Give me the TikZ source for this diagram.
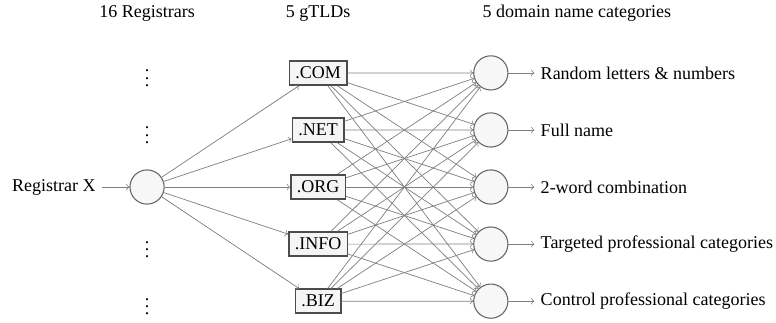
\documentclass[tikz,border=0pt]{standalone}
\usepackage{fontspec}
\setmainfont{Liberation Serif}
\usepackage{tikz}
\usetikzlibrary{positioning}

\begin{document}
\begin{tikzpicture}[auto, tldbox/.style={rectangle, draw=black!70, fill=black!4, line width=0.8pt, inner sep=3.33pt}, hub/.style={circle, draw=black!60, fill=black!3, line width=0.6pt, minimum size=19pt, inner sep=0pt}, line/.style={draw=black!50, line width=0.4pt, ->}]
        \useasboundingbox (-81.7pt,-75pt) rectangle (349.4pt,103.9pt);

        % Nodes
        \node [hub] (regx) {};
        \node [left=15.3pt of regx] (regxlabel) {Registrar X};
        \node [tldbox, right=69.65pt of regx] (org) {.ORG};
        \node [tldbox, above=17.5pt of org] (net) {.NET};
        \node [tldbox, above=17.5pt of net] (com) {.COM};
        \node [tldbox, below=17.5pt of org] (info) {.INFO};
        \node [tldbox, below=17.5pt of info] (biz) {.BIZ};
        \node [hub, right=70.65pt of org] (cat3) {};
        \node [hub, above=12.1pt of cat3] (cat2) {};
        \node [hub, above=12.1pt of cat2] (cat1) {};
        \node [hub, below=12.1pt of cat3] (cat4) {};
        \node [hub, below=12.1pt of cat4] (cat5) {};
        \node [right=14.4pt of cat1] (random) {Random letters \& numbers};
        \node [right=14.4pt of cat2] (fullname) {Full name};
        \node [right=14.4pt of cat3] (twoword) {2-word combination};
        \node [right=14.4pt of cat4] (targeted) {Targeted professional categories};
        \node [right=14.4pt of cat5] (control) {Control professional categories};

        % Other registrars
        \node (dots1) at (regx |- com) {$\vdots$};
        \node (dots2) at (regx |- net) {$\vdots$};
        \node (dots4) at (regx |- info) {$\vdots$};
        \node (dots5) at (regx |- biz) {$\vdots$};

        % Titles
        \coordinate (ttl) at (0,96.4pt);
        \node (ttlreg) at (regx |- ttl) {16 Registrars};
        \node (ttltld) at (com |- ttl) {5 gTLDs};
        \node (ttlcat) at (cat1 |- ttl) [xshift=47.8pt] {5 domain name categories};

        % Arrows
        \path [line] (regxlabel) -- (regx);
        \path [line] (regx) -- (com);
        \path [line] (regx) -- (net);
        \path [line] (regx) -- (org);
        \path [line] (regx) -- (info);
        \path [line] (regx) -- (biz);
        \foreach \tld in {com,net,org,info,biz}
          \foreach \cat in {cat1,cat2,cat3,cat4,cat5}
            \path [line] (\tld) -- (\cat);
        \path [line] (cat1) -- (random);
        \path [line] (cat2) -- (fullname);
        \path [line] (cat3) -- (twoword);
        \path [line] (cat4) -- (targeted);
        \path [line] (cat5) -- (control);
    \end{tikzpicture}
\end{document}
